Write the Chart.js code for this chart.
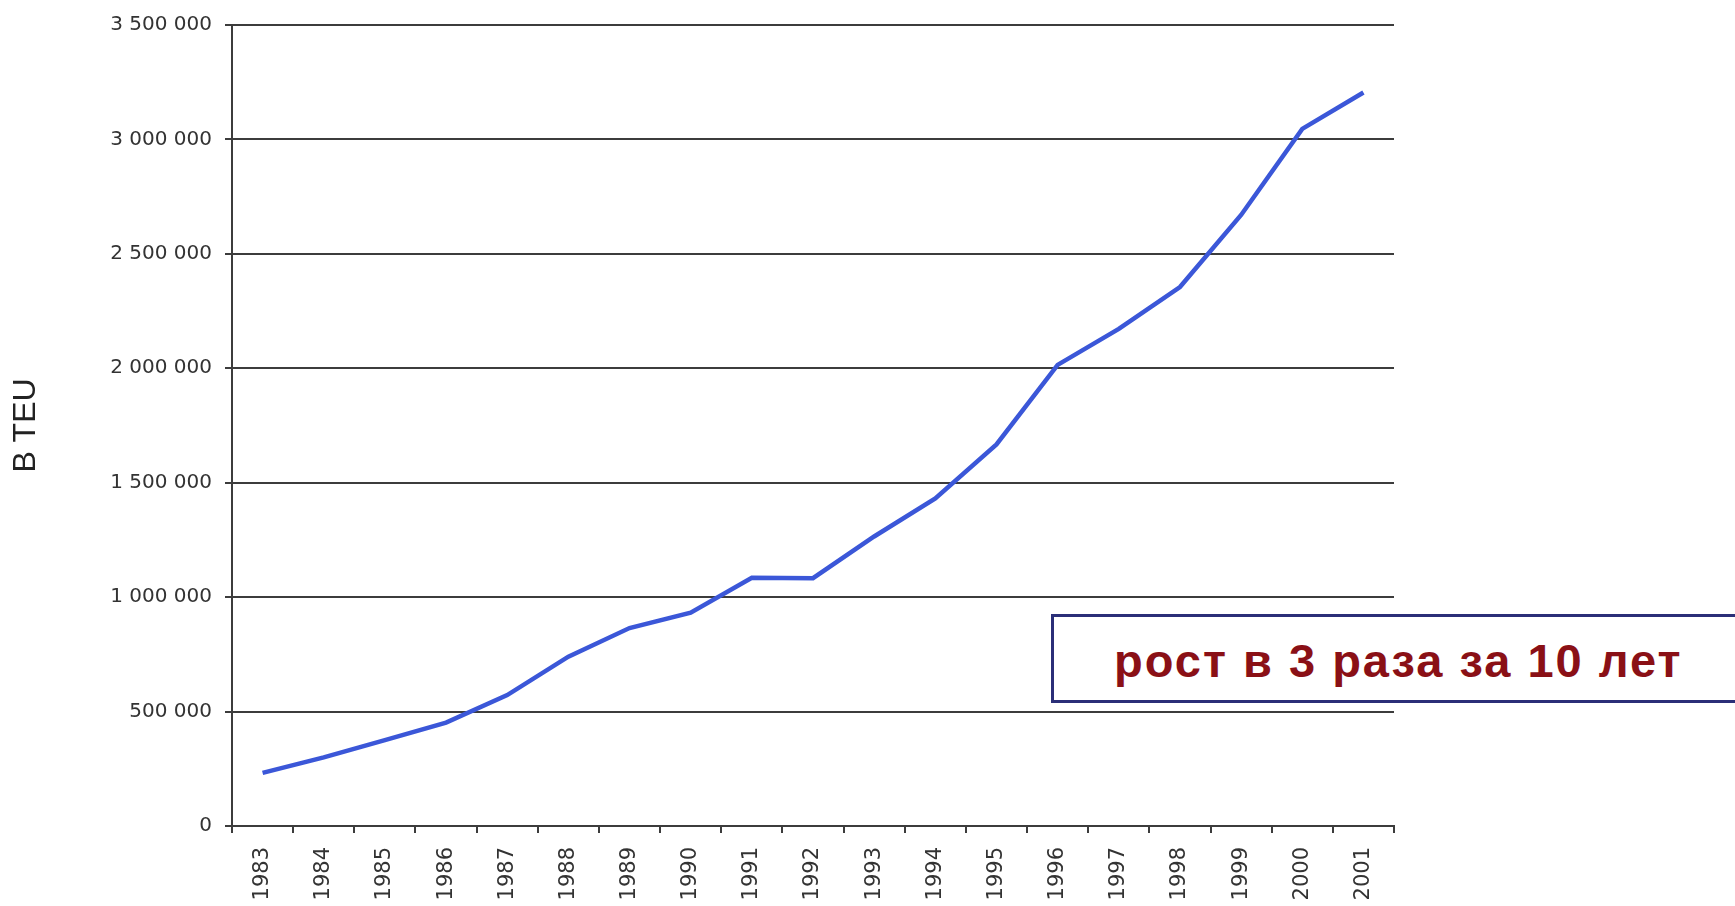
<!DOCTYPE html>
<html>
<head>
<meta charset="utf-8">
<script src="https://cdn.jsdelivr.net/npm/chart.js@4.4.0/dist/chart.umd.min.js"></script>
<style>
  html, body { margin: 0; padding: 0; background: #fff; }
  #wrap { position: relative; width: 1735px; height: 906px; overflow: hidden; }
  #teuChart { position: absolute; left: 0; top: 0; }
  #note {
    position: absolute;
    left: 1051px;
    top: 614px;
    width: 760px;
    height: 79px;
    border: 3px solid #2b2f78;
    background: #fff;
    font-family: "Liberation Sans", Arial, sans-serif;
    font-weight: bold;
    font-size: 47px;
    letter-spacing: 2px;
    color: #8a1016;
    display: flex;
    align-items: center;
    padding-left: 60px;
    padding-top: 4px;
    box-sizing: content-box;
  }
</style>
</head>
<body>
<div id="wrap">
  <canvas id="teuChart" width="1735" height="906"></canvas>
  <div id="note">рост в 3 раза за 10 лет</div>
</div>
<script>
// years on the x axis
const YEARS = [
  "1983", "1984", "1985", "1986", "1987", "1988", "1989", "1990", "1991", "1992",
  "1993", "1994", "1995", "1996", "1997", "1998", "1999", "2000", "2001",
];

// container throughput, TEU
const TEU_VALUES = [
  232000, 300000, 375000, 452000, 572000, 740000, 865000, 932000, 1085000, 1083000,
  1265000, 1431000, 1667000, 2015000, 2172000, 2355000, 2670000, 3046000, 3205000,
];

const Y_MIN = 0;
const Y_MAX = 3500000;
const Y_STEP = 500000;
const Y_TITLE = "В TEU";

const FONT = "'Liberation Sans', Arial, sans-serif";
const TICK_FONT = "'DejaVu Sans', sans-serif";
const GRID_COLOR = "#3c3c3c";

function formatThousands(v) {
  // "3 500 000" style
  return Number(v).toLocaleString("en-US").replace(/,/g, " ");
}

const ctx = document.getElementById("teuChart").getContext("2d");

new Chart(ctx, {
  type: "line",
  data: {
    labels: YEARS,
    datasets: [
      {
        data: TEU_VALUES,
        borderColor: "#3b57d8",
        borderWidth: 4.5,
        pointRadius: 0,
        tension: 0,
        fill: false,
      },
    ],
  },
  options: {
    responsive: false,
    animation: false,
    layout: {
      padding: { top: 24, right: 341, left: 0, bottom: 0 },
    },
    plugins: {
      legend: { display: false },
      tooltip: { enabled: false },
    },
    scales: {
      x: {
        offset: true,
        grid: {
          offset: true,
          drawOnChartArea: false,
          drawTicks: true,
          tickLength: 7,
          color: GRID_COLOR,
          lineWidth: 2,
        },
        border: { display: true, color: GRID_COLOR, width: 2 },
        ticks: {
          autoSkip: false,
          minRotation: 90,
          maxRotation: 90,
          padding: 14,
          color: "#333",
          font: { family: TICK_FONT, size: 21 },
        },
        afterFit: (scale) => {
          scale.height = 80;
        },
      },
      y: {
        min: Y_MIN,
        max: Y_MAX,
        grid: {
          drawTicks: true,
          tickLength: 7,
          color: GRID_COLOR,
          lineWidth: 2,
        },
        border: { display: true, color: GRID_COLOR, width: 2 },
        ticks: {
          stepSize: Y_STEP,
          padding: 13,
          color: "#333",
          font: { family: TICK_FONT, size: 20 },
          callback: (v) => formatThousands(v),
        },
        title: {
          display: true,
          text: Y_TITLE,
          color: "#222",
          padding: { top: 7, bottom: 0 },
          font: { family: FONT, size: 32 },
        },
        afterFit: (scale) => {
          scale.width = 232;
        },
      },
    },
  },
});
</script>
</body>
</html>
